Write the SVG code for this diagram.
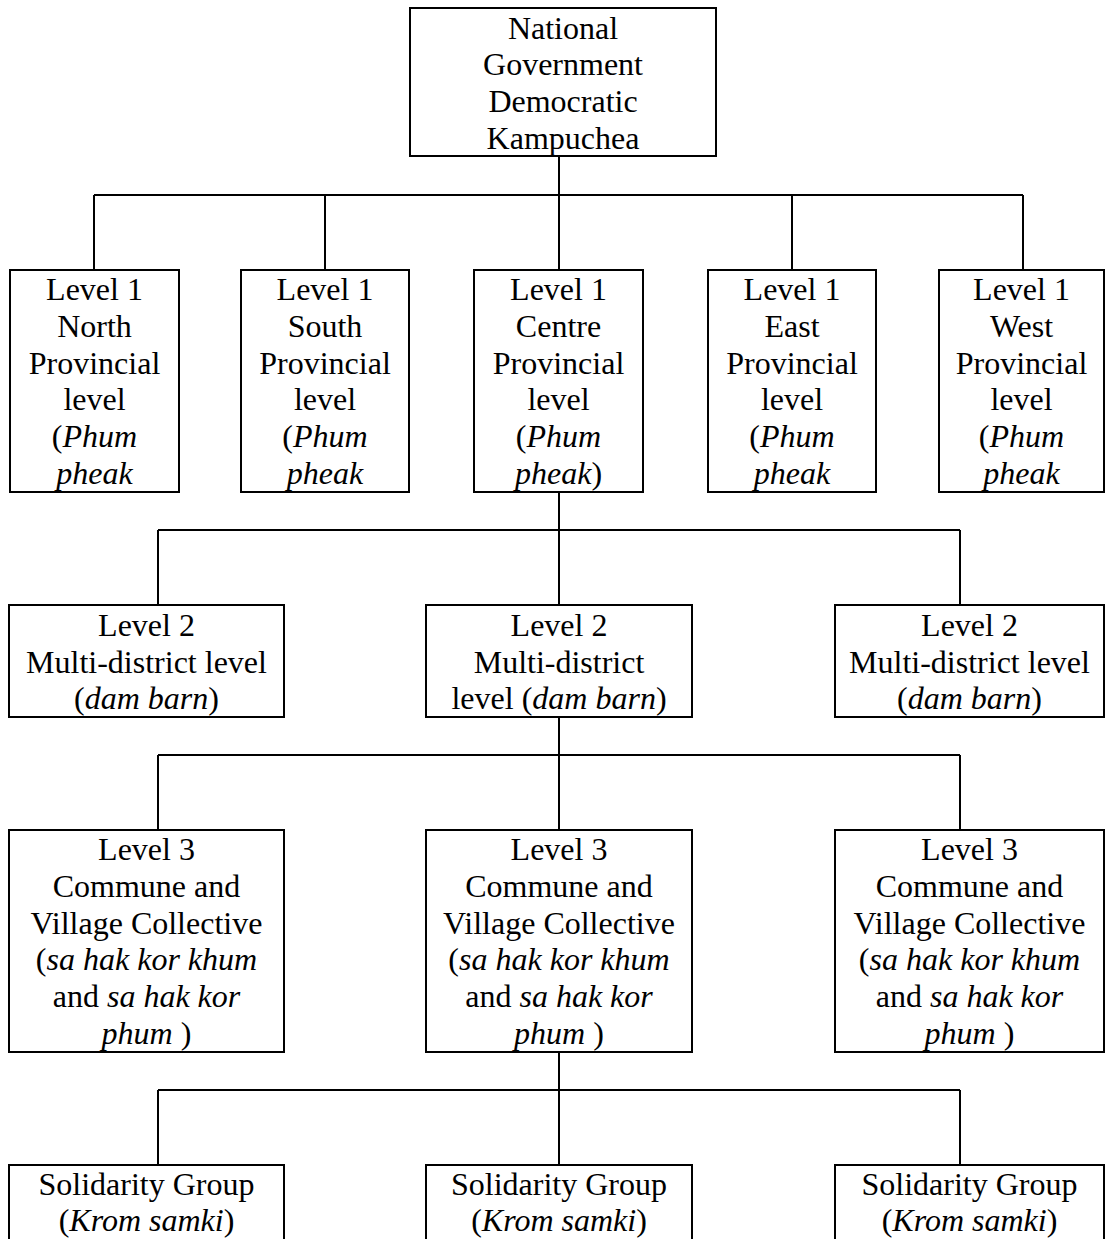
<svg xmlns="http://www.w3.org/2000/svg" width="1105" height="1239" viewBox="0 0 1105 1239">
<style>
.box{fill:#fff;stroke:#000;stroke-width:2}
.t{font-family:"Liberation Serif","Times New Roman",serif;font-size:32px;text-anchor:middle;fill:#000}
.i{font-style:italic}
.c{fill:none;stroke:#000;stroke-width:2}
</style>
<rect width="1105" height="1239" fill="#fff"/>
<g id="connectors" class="c">
<path d="M559 156V195M94 195H1023M94 195V270M325 195V270M559 195V270M792 195V270M1023 195V270"/>
<path d="M559 492V530M158 530H960M158 530V605M559 530V605M960 530V605"/>
<path d="M559 717V755M158 755H960M158 755V830M559 755V830M960 755V830"/>
<path d="M559 1052V1090M158 1090H960M158 1090V1165M559 1090V1165M960 1090V1165"/>
</g>
<g id="national">
<rect class="box" x="410" y="8" width="306" height="148"/>
<text class="t" x="563" y="39">National</text>
<text class="t" x="563" y="75">Government</text>
<text class="t" x="563" y="112">Democratic</text>
<text class="t" x="563" y="149">Kampuchea</text>
</g>
<g id="l1-north">
<rect class="box" x="10" y="270" width="169" height="222"/>
<text class="t" x="94.5" y="300">Level 1</text>
<text class="t" x="94.5" y="337">North</text>
<text class="t" x="94.5" y="374">Provincial</text>
<text class="t" x="94.5" y="410">level</text>
<text class="t" x="94.5" y="447">(<tspan class="i">Phum</tspan></text>
<text class="t i" x="94.5" y="484">pheak</text>
</g>
<g id="l1-south">
<rect class="box" x="241" y="270" width="168" height="222"/>
<text class="t" x="325" y="300">Level 1</text>
<text class="t" x="325" y="337">South</text>
<text class="t" x="325" y="374">Provincial</text>
<text class="t" x="325" y="410">level</text>
<text class="t" x="325" y="447">(<tspan class="i">Phum</tspan></text>
<text class="t i" x="325" y="484">pheak</text>
</g>
<g id="l1-centre">
<rect class="box" x="474" y="270" width="169" height="222"/>
<text class="t" x="558.5" y="300">Level 1</text>
<text class="t" x="558.5" y="337">Centre</text>
<text class="t" x="558.5" y="374">Provincial</text>
<text class="t" x="558.5" y="410">level</text>
<text class="t" x="558.5" y="447">(<tspan class="i">Phum</tspan></text>
<text class="t" x="558.5" y="484"><tspan class="i">pheak</tspan>)</text>
</g>
<g id="l1-east">
<rect class="box" x="708" y="270" width="168" height="222"/>
<text class="t" x="792" y="300">Level 1</text>
<text class="t" x="792" y="337">East</text>
<text class="t" x="792" y="374">Provincial</text>
<text class="t" x="792" y="410">level</text>
<text class="t" x="792" y="447">(<tspan class="i">Phum</tspan></text>
<text class="t i" x="792" y="484">pheak</text>
</g>
<g id="l1-west">
<rect class="box" x="939" y="270" width="165" height="222"/>
<text class="t" x="1021.5" y="300">Level 1</text>
<text class="t" x="1021.5" y="337">West</text>
<text class="t" x="1021.5" y="374">Provincial</text>
<text class="t" x="1021.5" y="410">level</text>
<text class="t" x="1021.5" y="447">(<tspan class="i">Phum</tspan></text>
<text class="t i" x="1021.5" y="484">pheak</text>
</g>
<g id="l2-left">
<rect class="box" x="9" y="605" width="275" height="112"/>
<text class="t" x="146.5" y="636">Level 2</text>
<text class="t" x="146.5" y="673">Multi-district level</text>
<text class="t" x="146.5" y="709">(<tspan class="i">dam barn</tspan>)</text>
</g>
<g id="l2-middle">
<rect class="box" x="426" y="605" width="266" height="112"/>
<text class="t" x="559" y="636">Level 2</text>
<text class="t" x="559" y="673">Multi-district</text>
<text class="t" x="559" y="709">level (<tspan class="i">dam barn</tspan>)</text>
</g>
<g id="l2-right">
<rect class="box" x="835" y="605" width="269" height="112"/>
<text class="t" x="969.5" y="636">Level 2</text>
<text class="t" x="969.5" y="673">Multi-district level</text>
<text class="t" x="969.5" y="709">(<tspan class="i">dam barn</tspan>)</text>
</g>
<g id="l3-left">
<rect class="box" x="9" y="830" width="275" height="222"/>
<text class="t" x="146.5" y="860">Level 3</text>
<text class="t" x="146.5" y="897">Commune and</text>
<text class="t" x="146.5" y="934">Village Collective</text>
<text class="t" x="146.5" y="970">(<tspan class="i">sa hak kor khum</tspan></text>
<text class="t" x="146.5" y="1007">and <tspan class="i">sa hak kor</tspan></text>
<text class="t" x="146.5" y="1044"><tspan class="i">phum</tspan> )</text>
</g>
<g id="l3-middle">
<rect class="box" x="426" y="830" width="266" height="222"/>
<text class="t" x="559" y="860">Level 3</text>
<text class="t" x="559" y="897">Commune and</text>
<text class="t" x="559" y="934">Village Collective</text>
<text class="t" x="559" y="970">(<tspan class="i">sa hak kor khum</tspan></text>
<text class="t" x="559" y="1007">and <tspan class="i">sa hak kor</tspan></text>
<text class="t" x="559" y="1044"><tspan class="i">phum</tspan> )</text>
</g>
<g id="l3-right">
<rect class="box" x="835" y="830" width="269" height="222"/>
<text class="t" x="969.5" y="860">Level 3</text>
<text class="t" x="969.5" y="897">Commune and</text>
<text class="t" x="969.5" y="934">Village Collective</text>
<text class="t" x="969.5" y="970">(<tspan class="i">sa hak kor khum</tspan></text>
<text class="t" x="969.5" y="1007">and <tspan class="i">sa hak kor</tspan></text>
<text class="t" x="969.5" y="1044"><tspan class="i">phum</tspan> )</text>
</g>
<g id="sg-left">
<rect class="box" x="9" y="1165" width="275" height="90"/>
<text class="t" x="146.5" y="1195">Solidarity Group</text>
<text class="t" x="146.5" y="1231">(<tspan class="i">Krom samki</tspan>)</text>
</g>
<g id="sg-middle">
<rect class="box" x="426" y="1165" width="266" height="90"/>
<text class="t" x="559" y="1195">Solidarity Group</text>
<text class="t" x="559" y="1231">(<tspan class="i">Krom samki</tspan>)</text>
</g>
<g id="sg-right">
<rect class="box" x="835" y="1165" width="269" height="90"/>
<text class="t" x="969.5" y="1195">Solidarity Group</text>
<text class="t" x="969.5" y="1231">(<tspan class="i">Krom samki</tspan>)</text>
</g>
</svg>
